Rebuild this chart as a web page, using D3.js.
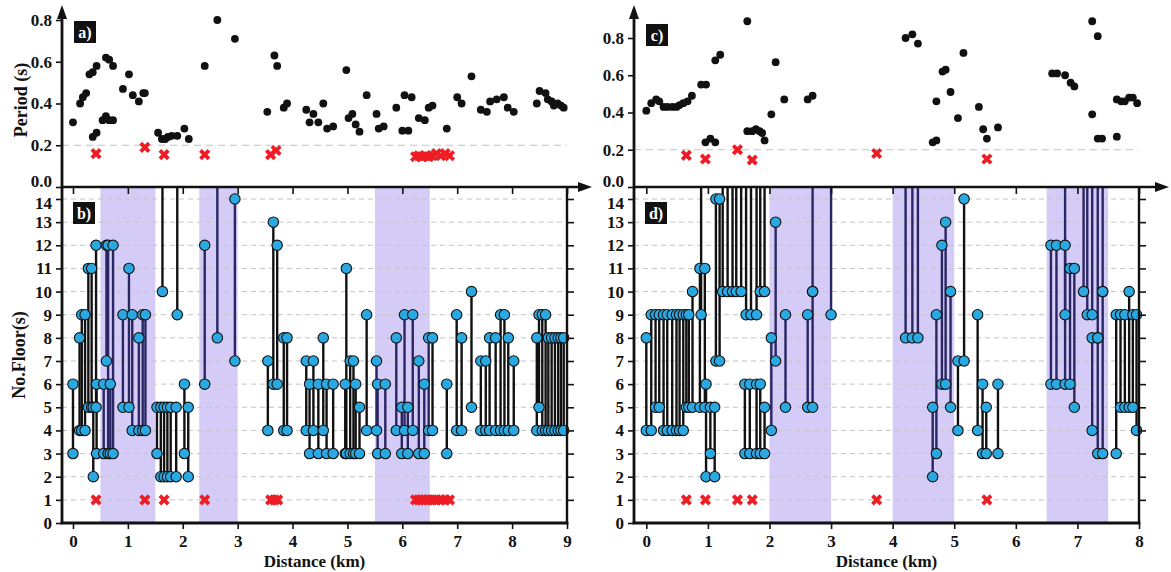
<!DOCTYPE html>
<html>
<head>
<meta charset="utf-8">
<script src="https://cdn.jsdelivr.net/npm/d3@7"></script>
<style>
  html, body { margin: 0; padding: 0; background: #fff; }
  svg { display: block; }
  text { font-family: "Liberation Serif", "Times New Roman", serif; font-weight: bold; fill: #111; }
</style>
</head>
<body>
<svg id="chart" width="1171" height="572"></svg>
<script>
// ---------- Profile 1 (panels a, b) ----------
// dominant period of each measurement point: [distance km, period s]
const periodA = [
  [0.00,0.31],[0.13,0.40],[0.18,0.43],[0.24,0.45],[0.30,0.54],[0.36,0.55],[0.43,0.58],
  [0.36,0.24],[0.43,0.26],[0.54,0.32],[0.60,0.34],[0.66,0.32],[0.73,0.32],
  [0.60,0.62],[0.66,0.61],[0.73,0.58],[0.91,0.47],[1.02,0.54],[1.09,0.44],[1.20,0.41],
  [1.28,0.45],[1.31,0.45],[1.55,0.26],[1.62,0.23],[1.68,0.23],[1.73,0.24],[1.80,0.245],
  [1.90,0.245],[2.03,0.28],[2.11,0.23],[2.40,0.58],[2.63,0.80],[2.95,0.71],
  [3.54,0.36],[3.67,0.63],[3.72,0.58],[3.84,0.38],[3.90,0.40],
  [4.25,0.37],[4.31,0.31],[4.38,0.35],[4.47,0.31],[4.56,0.40],[4.63,0.28],[4.74,0.29],
  [4.98,0.56],[5.02,0.33],[5.09,0.35],[5.15,0.30],[5.22,0.265],[5.35,0.44],
  [5.53,0.35],[5.57,0.28],[5.66,0.29],[5.89,0.38],[6.00,0.27],[6.11,0.27],[6.04,0.44],
  [6.17,0.43],[6.30,0.33],[6.41,0.32],[6.48,0.38],[6.55,0.39],[6.81,0.28],
  [7.00,0.43],[7.08,0.40],[7.26,0.53],[7.43,0.37],[7.54,0.36],[7.60,0.41],[7.72,0.42],
  [7.85,0.43],[7.92,0.38],[8.03,0.36],[8.45,0.40],[8.50,0.46],[8.61,0.45],[8.65,0.42],
  [8.72,0.41],[8.76,0.39],[8.83,0.40],[8.89,0.39],[8.94,0.38]
];
// points whose period falls below 0.2 s: [distance km, period s]
const shortPeriodA = [
  [0.42,0.16],[1.31,0.19],[1.66,0.155],[2.40,0.155],[3.60,0.155],[3.70,0.175],
  [6.24,0.145],[6.30,0.15],[6.36,0.145],[6.42,0.15],[6.48,0.145],[6.55,0.15],
  [6.62,0.16],[6.70,0.15],[6.78,0.16],[6.86,0.15]
];
// building height ranges: [distance km, lowest floors, highest floors]
const floorsB = [
  [0.00,3,6],[0.12,4,8],[0.16,4,9],[0.22,4,9],[0.28,5,11],[0.34,5,11],[0.37,2,5],
  [0.42,5,12],[0.43,3,6],[0.56,3,6],[0.61,7,12],[0.64,3,12],[0.68,3,6],[0.73,3,12],
  [0.91,5,9],[1.02,5,11],[1.08,4,9],[1.20,4,8],[1.27,4,9],[1.32,4,9],
  [1.53,3,5],[1.60,2,5],[1.66,2,5],[1.72,2,5],[1.78,2,5],[1.88,2,5],[2.03,3,6],[2.10,2,5],
  [2.40,6,12],[2.95,7,14],[3.55,4,7],[3.65,6,13],[3.72,6,12],[3.84,4,8],[3.90,4,8],
  [4.25,4,7],[4.31,3,6],[4.38,4,7],[4.47,3,6],[4.56,4,8],[4.62,3,6],[4.74,3,6],
  [4.96,3,6],[4.98,3,11],[5.05,3,7],[5.11,3,7],[5.15,3,6],[5.22,3,5],[5.35,4,9],
  [5.53,4,7],[5.55,3,6],[5.69,3,6],[5.89,4,8],[5.99,3,5],[6.04,4,9],[6.10,3,5],
  [6.19,4,9],[6.30,3,7],[6.40,3,6],[6.48,4,8],[6.55,4,8],[6.81,3,6],
  [6.99,4,9],[7.08,4,8],[7.26,5,10],[7.43,4,7],[7.52,4,7],[7.59,4,8],[7.70,4,8],
  [7.79,4,9],[7.86,4,9],[7.93,4,8],[8.03,4,7],[8.45,4,8],[8.49,5,9],[8.55,4,9],
  [8.61,4,9],[8.66,4,8],[8.72,4,8],[8.78,4,8],[8.84,4,8],[8.89,4,8],[8.94,4,8]
];
// ranges whose top exceeds 14 floors: [distance km, lowest floors]
const tallB = [[1.63,10],[1.90,9],[2.63,8]];
// points with period below 0.2 s, shown at floor 1
const lowFloorB = [0.42,1.31,1.66,2.40,3.60,3.67,3.73,6.24,6.30,6.36,6.42,6.48,6.55,6.62,6.70,6.78,6.86];
// highlighted distance bands [from km, to km]
const bandsB = [[0.5,1.5],[2.3,3.0],[5.5,6.5]];

// ---------- Profile 2 (panels c, d) ----------
const periodC = [
  [0.00,0.41],[0.08,0.45],[0.16,0.47],[0.21,0.46],[0.28,0.43],[0.34,0.43],[0.42,0.43],
  [0.49,0.43],[0.54,0.44],[0.60,0.45],[0.67,0.46],[0.74,0.49],[0.89,0.55],[0.97,0.55],
  [0.96,0.24],[1.04,0.26],[1.12,0.24],[1.12,0.68],[1.20,0.71],[1.64,0.89],[1.64,0.30],
  [1.72,0.30],[1.78,0.31],[1.84,0.30],[1.88,0.29],[1.92,0.25],[2.03,0.39],[2.10,0.67],
  [2.24,0.47],[2.62,0.47],[2.70,0.49],
  [4.21,0.80],[4.32,0.82],[4.41,0.77],[4.71,0.46],[4.65,0.24],[4.71,0.25],[4.81,0.62],
  [4.86,0.63],[4.94,0.51],[5.06,0.37],[5.15,0.72],[5.40,0.43],[5.47,0.31],[5.53,0.26],
  [5.71,0.32],[6.59,0.61],[6.67,0.61],[6.80,0.60],[6.89,0.56],[6.95,0.54],
  [7.24,0.89],[7.33,0.81],[7.24,0.39],[7.33,0.26],[7.40,0.26],[7.64,0.27],
  [7.64,0.47],[7.71,0.46],[7.77,0.46],[7.84,0.48],[7.90,0.48],[7.97,0.45]
];
const shortPeriodC = [[0.65,0.17],[0.96,0.15],[1.48,0.20],[1.72,0.145],[3.74,0.18],[5.53,0.15]];
const floorsD = [
  [0.00,4,8],[0.08,4,9],[0.15,5,9],[0.21,5,9],[0.28,4,9],[0.34,4,9],[0.42,4,9],
  [0.49,4,9],[0.54,4,9],[0.60,4,9],[0.65,5,9],[0.69,5,9],[0.75,5,10],[0.87,5,11],
  [0.95,5,11],[0.97,2,6],[1.04,3,5],[1.11,2,5],[1.13,7,14],[1.19,7,14],
  [1.60,3,6],[1.68,3,6],[1.79,3,6],[1.85,3,6],[1.92,3,5],
  [2.03,4,8],[2.10,7,13],[2.26,5,9],[2.62,5,9],[2.70,5,10],
  [4.65,2,5],[4.71,3,9],[4.80,6,12],[4.86,6,13],[4.94,5,10],[5.06,4,7],[5.16,7,14],
  [5.38,4,9],[5.46,3,6],[5.52,3,5],[5.71,3,6],
  [6.57,6,12],[6.66,6,12],[6.80,6,12],[6.88,6,11],[6.95,5,11],[7.24,4,8],[7.33,3,8],
  [7.41,3,10],[7.63,3,9],[7.70,5,9],[7.77,5,9],[7.84,5,10],[7.90,5,9],[7.96,4,9]
];
const tallD = [
  [0.89,9],[1.24,10],[1.32,10],[1.40,10],[1.46,10],[1.54,10],[1.62,9],[1.70,9],
  [1.79,9],[1.85,10],[1.92,10],[2.70,10],[3.00,9],[4.21,8],[4.32,8],[4.41,8],
  [6.80,9],[7.10,10],[7.16,9],[7.24,9],[7.33,8],[7.41,10]
];
const lowFloorD = [0.65,0.96,1.48,1.72,3.74,5.53];
const bandsD = [[2,3],[4,5],[6.5,7.5]];

// axis ticks
const periodTicks = [0, 0.2, 0.4, 0.6, 0.8];
const floorTicks = d3.range(0, 15);
const distTicksB = d3.range(0, 10);
const distTicksD = d3.range(0, 9);

const svg = d3.select("#chart");
const SHADE = "#d4ccf6", DOT = "#2aa8e2", CROSS = "#ee1c24";
const STEM_IN = "#2a2663", STEM_OUT = "#111";

function arrowUp(g, x, yTip) {
  g.append("path").attr("d", `M${x},${yTip} L${x-5},${yTip+14} L${x+5},${yTip+14} Z`).attr("fill", "#111");
}
function arrowRight(g, xTip, y) {
  g.append("path").attr("d", `M${xTip},${y} L${xTip-14},${y-5} L${xTip-14},${y+5} Z`).attr("fill", "#111");
}
function crossPath(s) {
  return `M${-s},${-s}L${s},${s}M${-s},${s}L${s},${-s}`;
}
function tag(g, x, y, label) {
  g.append("rect").attr("x", x).attr("y", y).attr("width", 22).attr("height", 22).attr("fill", "#111");
  g.append("text").attr("x", x + 11).attr("y", y + 16.5).attr("text-anchor", "middle")
    .style("fill", "#fff").style("font-size", "16px").text(label);
}

function panel(o) {
  const g = svg.append("g");
  const x = d3.scaleLinear().domain([-0.2, o.xMax]).range([o.left, o.right]);
  const yP = d3.scaleLinear().domain([0, 0.8]).range([187, o.p08]);
  const yF = d3.scaleLinear().domain([0, 14]).range([523, 199]);
  const yTop = 187;

  // highlighted bands
  g.selectAll(".band").data(o.bands).join("rect")
    .attr("x", d => x(d[0])).attr("width", d => x(d[1]) - x(d[0]))
    .attr("y", yTop).attr("height", 523 - yTop).attr("fill", SHADE);

  // floor gridlines
  g.selectAll(".grid").data(floorTicks.slice(1)).join("line")
    .attr("x1", o.left).attr("x2", o.right).attr("y1", d => yF(d)).attr("y2", d => yF(d))
    .attr("stroke", "#c4c4c4").attr("stroke-width", 1).attr("stroke-dasharray", "5,4");
  // 0.2 s reference line
  g.append("line").attr("x1", o.left).attr("x2", o.right)
    .attr("y1", yP(0.2)).attr("y2", yP(0.2))
    .attr("stroke", "#c4c4c4").attr("stroke-width", 1.2).attr("stroke-dasharray", "7,5");

  const inBand = v => o.bands.some(b => v >= b[0] && v <= b[1]);

  // stems running above the frame
  g.selectAll(".tall").data(o.tall).join("line")
    .attr("x1", d => x(d[0])).attr("x2", d => x(d[0]))
    .attr("y1", d => yF(d[1])).attr("y2", yTop)
    .attr("stroke", d => inBand(d[0]) ? STEM_IN : STEM_OUT).attr("stroke-width", 2.4);
  // floor range stems
  g.selectAll(".stem").data(o.floors).join("line")
    .attr("x1", d => x(d[0])).attr("x2", d => x(d[0]))
    .attr("y1", d => yF(d[1])).attr("y2", d => yF(d[2]))
    .attr("stroke", d => inBand(d[0]) ? STEM_IN : STEM_OUT).attr("stroke-width", 2.4);

  const ends = [];
  o.floors.forEach(d => { ends.push([d[0], d[1]]); ends.push([d[0], d[2]]); });
  o.tall.forEach(d => ends.push([d[0], d[1]]));
  g.selectAll(".end").data(ends).join("circle")
    .attr("cx", d => x(d[0])).attr("cy", d => yF(d[1])).attr("r", 5.2)
    .attr("fill", DOT).attr("stroke", "#111").attr("stroke-width", 1.1);

  // short-period markers
  g.selectAll(".xf").data(o.lowFloor).join("path")
    .attr("transform", d => `translate(${x(d)},${yF(1)})`).attr("d", crossPath(4.2))
    .attr("stroke", CROSS).attr("stroke-width", 3.8).attr("fill", "none");
  g.selectAll(".xp").data(o.shortPeriod).join("path")
    .attr("transform", d => `translate(${x(d[0])},${yP(d[1])})`).attr("d", crossPath(4.2))
    .attr("stroke", CROSS).attr("stroke-width", 3.8).attr("fill", "none");

  // period dots
  g.selectAll(".dot").data(o.period).join("circle")
    .attr("cx", d => x(d[0])).attr("cy", d => yP(d[1])).attr("r", 3.9).attr("fill", "#111");

  // axes
  const ax = g.append("g");
  ax.append("g").attr("transform", `translate(${o.left},0)`)
    .call(d3.axisLeft(yP).tickValues(periodTicks).tickFormat(d3.format(".1f")).tickSize(6).tickPadding(4))
    .call(a => a.select(".domain").remove())
    .call(a => a.selectAll(".tick text").filter(d => d === 0).attr("dy", "-0.02em"));
  ax.append("g").attr("transform", `translate(${o.left},0)`)
    .call(d3.axisLeft(yF).tickValues(floorTicks).tickSize(6).tickPadding(4))
    .call(a => a.select(".domain").remove())
    .call(a => a.selectAll(".tick text").filter(d => d === 14).attr("dy", "0.58em"));
  ax.append("g").attr("transform", `translate(${o.right},0)`)
    .call(d3.axisRight(yF).tickValues(floorTicks.slice(1)).tickSize(7).tickFormat(""))
    .call(a => a.select(".domain").remove());
  ax.append("g").attr("transform", `translate(0,523)`)
    .call(d3.axisBottom(x).tickValues(o.distTicks).tickSize(6).tickPadding(6))
    .call(a => a.select(".domain").remove());
  ax.append("g").attr("transform", `translate(0,${yTop})`)
    .call(d3.axisBottom(x).tickValues(o.distTicks).tickSize(7).tickFormat(""))
    .call(a => a.select(".domain").remove());
  ax.selectAll(".tick line").attr("stroke", "#111").attr("stroke-width", 1.6);
  ax.selectAll(".tick text").style("font-size", "17px").style("font-family", "'Liberation Serif', serif")
    .style("font-weight", "bold").attr("fill", "#111");

  // frame lines and arrows
  const line = (x1, y1, x2, y2, w) => ax.append("line").attr("x1", x1).attr("y1", y1)
    .attr("x2", x2).attr("y2", y2).attr("stroke", "#111").attr("stroke-width", w);
  line(o.left, 523, o.left, 10, 2.8);
  line(o.left - 1.4, 523, o.right + 1.4, 523, 2.8);
  line(o.right, yTop, o.right, 523, 2.4);
  line(o.left, yTop, o.arrowX - 6, yTop, 2.6);
  arrowUp(ax, o.left, 5);
  arrowRight(ax, o.arrowX, yTop);

  tag(g, o.left + 12, o.tagTopY, o.tags[0]);
  tag(g, o.left + 11, 202, o.tags[1]);

  g.append("text").attr("x", (o.left + o.right) / 2).attr("y", 567).attr("text-anchor", "middle")
    .style("font-size", "17px").text("Distance (km)");
}

panel({ left: 62, right: 567, xMax: 9, p08: 20, arrowX: 592, tagTopY: 21,
  period: periodA, shortPeriod: shortPeriodA, floors: floorsB, tall: tallB,
  lowFloor: lowFloorB, bands: bandsB, distTicks: distTicksB, tags: ["a)", "b)"] });
panel({ left: 634, right: 1139, xMax: 8, p08: 38, arrowX: 1169, tagTopY: 24,
  period: periodC, shortPeriod: shortPeriodC, floors: floorsD, tall: tallD,
  lowFloor: lowFloorD, bands: bandsD, distTicks: distTicksD, tags: ["c)", "d)"] });

svg.append("text").attr("transform", "translate(27,100) rotate(-90)").attr("text-anchor", "middle")
  .style("font-size", "18px").text("Period (s)");
svg.append("text").attr("transform", "translate(25,355) rotate(-90)").attr("text-anchor", "middle")
  .style("font-size", "18px").text("No.Floor(s)");
</script>
</body>
</html>
